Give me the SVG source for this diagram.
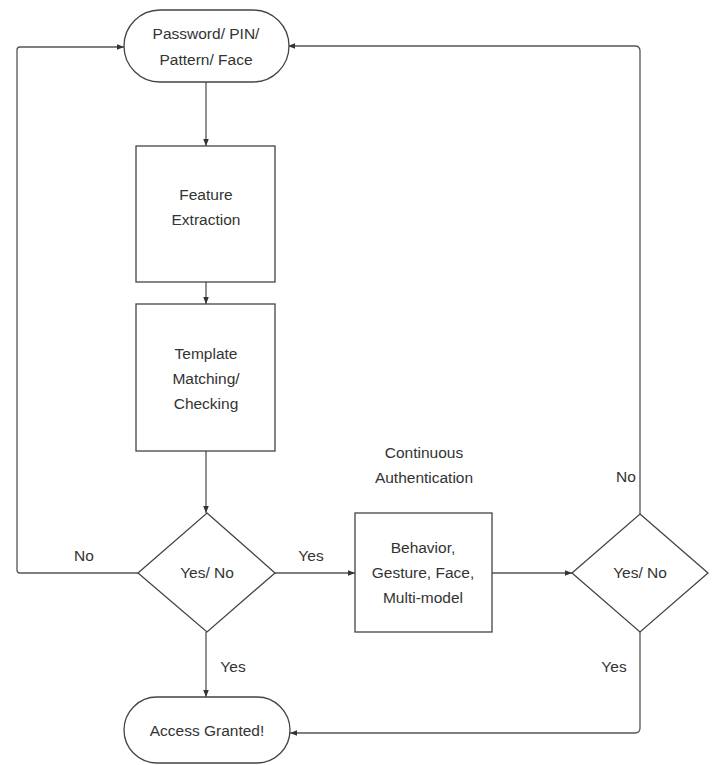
<svg xmlns="http://www.w3.org/2000/svg" width="714" height="765" viewBox="0 0 714 765">
<defs>
<marker id="ah" viewBox="0 0 10 10" refX="10" refY="5" markerWidth="7" markerHeight="7" markerUnits="userSpaceOnUse" orient="auto">
<path d="M0,1 L10,5 L0,9 z" fill="#333"/>
</marker>
<style>
.shape{fill:#fff;stroke:#444;stroke-width:1.3}
.conn{fill:none;stroke:#555;stroke-width:1.3;marker-end:url(#ah)}
text{font-family:"Liberation Sans",Arial,sans-serif;font-size:15.5px;fill:#333;text-anchor:middle}
</style>
</defs>
<rect width="714" height="765" fill="#fff"/>
<g id="connectors">
<path class="conn" d="M206,82 L206,146"/>
<path class="conn" d="M206,282 L206,304"/>
<path class="conn" d="M206,451 L206,513"/>
<path class="conn" d="M138,573 L20,573 Q17,573 17,570 L17,50 Q17,47 20,47 L124,47"/>
<path class="conn" d="M275,573 L355,573"/>
<path class="conn" d="M206,632 L206,697"/>
<path class="conn" d="M492,573 L572,573"/>
<path class="conn" d="M640,514 L640,51 Q640,46 635,46 L288,46"/>
<path class="conn" d="M640,632 L640,728 Q640,733 635,733 L290,733"/>
<text x="84" y="561">No</text>
<text x="311" y="561">Yes</text>
<text x="233" y="672">Yes</text>
<text x="626" y="482">No</text>
<text x="614" y="672">Yes</text>
</g>
<g id="start">
<rect class="shape" x="124" y="10" width="165" height="72" rx="36" ry="36"/>
<text x="206" y="39">Password/ PIN/</text>
<text x="206" y="65">Pattern/ Face</text>
</g>
<g id="feature">
<rect class="shape" x="136" y="146" width="139" height="136"/>
<text x="206" y="200">Feature</text>
<text x="206" y="225">Extraction</text>
</g>
<g id="template">
<rect class="shape" x="136" y="304" width="139" height="147"/>
<text x="206" y="359">Template</text>
<text x="206" y="384">Matching/</text>
<text x="206" y="409">Checking</text>
</g>
<g id="decision1">
<polygon class="shape" points="207,513 275,573 207,632 138,573"/>
<text x="207" y="578">Yes/ No</text>
</g>
<g id="continuous-label">
<text x="424" y="458">Continuous</text>
<text x="424" y="483">Authentication</text>
</g>
<g id="behavior">
<rect class="shape" x="355" y="513" width="137" height="119"/>
<text x="423" y="553">Behavior,</text>
<text x="423" y="578">Gesture, Face,</text>
<text x="423" y="603">Multi-model</text>
</g>
<g id="decision2">
<polygon class="shape" points="640,514 708,573 640,632 572,573"/>
<text x="640" y="578">Yes/ No</text>
</g>
<g id="granted">
<rect class="shape" x="124" y="697" width="166" height="66" rx="33" ry="33"/>
<text x="207" y="736">Access Granted!</text>
</g>
</svg>
